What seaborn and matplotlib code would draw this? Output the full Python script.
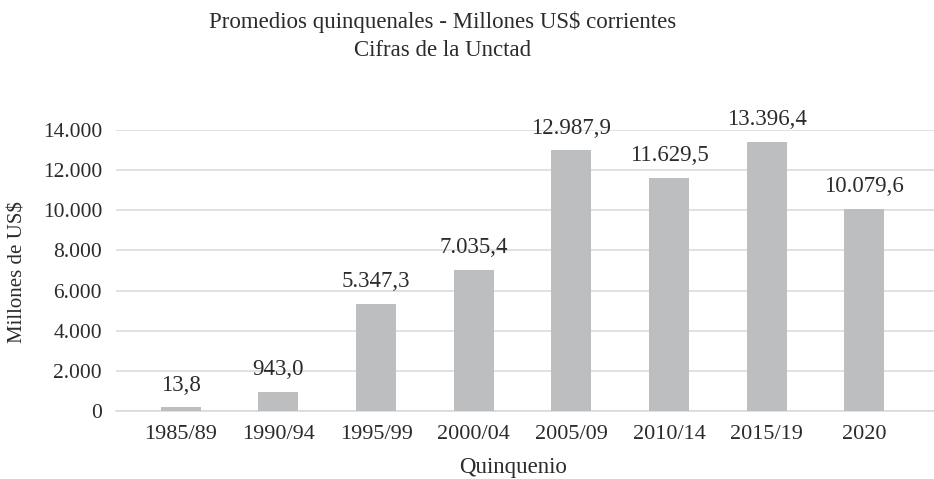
import matplotlib
matplotlib.use("Agg")
import matplotlib.pyplot as plt
import seaborn as sns
import pandas as pd

categories = ["1985/89", "1990/94", "1995/99", "2000/04", "2005/09", "2010/14", "2015/19", "2020"]
bar_heights = [180.0, 943.0, 5347.3, 7035.4, 12987.9, 11629.5, 13396.4, 10079.6]
value_labels = ["13,8", "943,0", "5.347,3", "7.035,4", "12.987,9", "11.629,5", "13.396,4", "10.079,6"]
y_ticks = [0, 2000, 4000, 6000, 8000, 10000, 12000, 14000]
y_tick_labels = ["0", "2.000", "4.000", "6.000", "8.000", "10.000", "12.000", "14.000"]

df = pd.DataFrame({"Quinquenio": categories, "Valor": bar_heights})

sns.set_theme(style="white")
plt.rcParams["font.family"] = ["Liberation Serif", "DejaVu Serif"]
TXT = "#2b2b2b"

fig = plt.figure(figsize=(9.34, 4.79), dpi=100)
ax = fig.add_axes([116 / 934, 1 - 411 / 479, 1 - 116 / 934, (411 - 130) / 479])

sns.barplot(data=df, x="Quinquenio", y="Valor", color="#BDBEC0", saturation=1,
            width=0.41, ax=ax, zorder=3)
for p in ax.patches:
    p.set_edgecolor("none")

ax.set_ylim(0, 14000)
ax.set_xlim(-0.664, 7.715)
ax.set_yticks(y_ticks)
ax.set_yticklabels(y_tick_labels)
ax.yaxis.grid(True, color="#D9D9D9", linewidth=1.1, zorder=0)
ax.set_axisbelow(True)
for s in ["top", "right", "left"]:
    ax.spines[s].set_visible(False)
ax.spines["bottom"].set_color("#D9D9D9")
ax.spines["bottom"].set_linewidth(1.1)
ax.tick_params(axis="both", length=0, colors=TXT)
ax.tick_params(axis="y", pad=10, labelsize=15.5)
ax.tick_params(axis="x", pad=10, labelsize=16)
ax.set_xlabel("")
ax.set_ylabel("")

for i, (h, lab) in enumerate(zip(bar_heights, value_labels)):
    ax.annotate(lab, (i, h), xytext=(0, 12), textcoords="offset points",
                ha="center", va="baseline", fontsize=16.5, color=TXT, clip_on=False)

fig.text(443 / 934, 1 - 22 / 479, "Promedios quinquenales - Millones US$ corrientes",
         ha="center", va="center", fontsize=16.5, color=TXT)
fig.text(443 / 934, 1 - 50 / 479, "Cifras de la Unctad",
         ha="center", va="center", fontsize=16.5, color=TXT)
fig.text(18 / 934, 1 - 272 / 479, "Millones de US$", rotation=90,
         ha="center", va="center", fontsize=15, color=TXT)
fig.text(513 / 934, 1 - 467 / 479, "Quinquenio",
         ha="center", va="center", fontsize=16.5, color=TXT)

fig.savefig("out.png", dpi=100)
